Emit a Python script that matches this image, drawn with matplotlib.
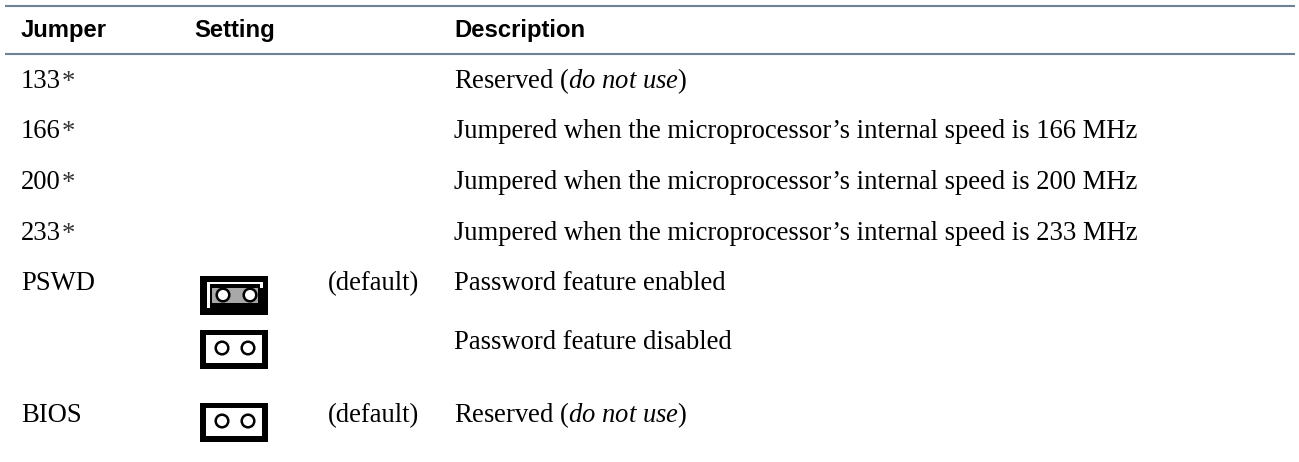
#!/usr/bin/env python3
"""Jumper settings table, drawn on a pixel-sized axes."""

import matplotlib
matplotlib.use("Agg")
import matplotlib.pyplot as plt
from matplotlib.patches import Circle, Rectangle

W, H = 1299, 462
RULE = "#6f8295"
SANS = "Liberation Sans"
SERIF = "Liberation Serif"
HEAD = 17.2
BODY = 19.2

headers = ["Jumper", "Setting", "Description"]
header_x = [21, 194, 454]

jumpers = ["133", "166", "200", "233", "PSWD", "", "BIOS"]
stars = [True, True, True, True, False, False, False]
defaults = ["", "", "", "", "(default)", "", "(default)"]
descriptions = [
    r"Reserved ($\mathit{do\ not\ use}$)",
    "Jumpered when the microprocessor\u2019s internal speed is 166 MHz",
    "Jumpered when the microprocessor\u2019s internal speed is 200 MHz",
    "Jumpered when the microprocessor\u2019s internal speed is 233 MHz",
    "Password feature enabled",
    "Password feature disabled",
    r"Reserved ($\mathit{do\ not\ use}$)",
]
row_y = [88, 138, 189, 240, 290, 349, 422]

# jumper blocks: (left, top, shunted)
blocks = [(200, 276, True), (200, 330, False), (200, 403, False)]


def draw_block(ax, x, y, shunted):
    ax.add_patch(Rectangle((x, y), 68, 39, fc="black", ec="none"))
    if shunted:
        ax.add_patch(Rectangle((x + 7, y + 6), 56, 26, fc="white", ec="none"))
        ax.add_patch(Rectangle((x + 10, y + 8), 50, 24, fc="black", ec="none"))
        ax.add_patch(Rectangle((x + 60, y + 12), 3, 20, fc="black", ec="none"))
        ax.add_patch(Rectangle((x + 12, y + 12), 46, 15, fc="#a8a8a8", ec="none"))
        centers, cy = (x + 23, x + 50), y + 19
    else:
        ax.add_patch(Rectangle((x + 6, y + 5), 56, 28, fc="white", ec="none"))
        centers, cy = (x + 22, x + 48), y + 18
    for cx in centers:
        ax.add_patch(Circle((cx, cy), 6.3, fc="white", ec="black", lw=1.8))


def main():
    plt.rcParams["mathtext.fontset"] = "custom"
    plt.rcParams["mathtext.it"] = "Liberation Serif:italic"
    plt.rcParams["mathtext.rm"] = SERIF

    fig = plt.figure(figsize=(W / 100, H / 100), dpi=100)
    ax = fig.add_axes([0, 0, 1, 1])
    ax.set_xlim(0, W)
    ax.set_ylim(H, 0)
    ax.axis("off")

    ax.plot([5, 1295], [6, 6], color=RULE, lw=1.5, solid_capstyle="butt")
    ax.plot([5, 1295], [54, 54], color=RULE, lw=1.5, solid_capstyle="butt")

    for x, label in zip(header_x, headers):
        ax.text(x, 37, label, family=SANS, weight="bold", fontsize=HEAD,
                va="baseline", ha="left", color="black")

    for i, y in enumerate(row_y):
        if jumpers[i]:
            ax.text(21, y, jumpers[i], family=SERIF, fontsize=BODY, va="baseline", ha="left")
            if stars[i]:
                ax.text(62, y + 1, "*", family=SERIF, fontsize=BODY, va="baseline",
                        ha="left", color="#333333")
        if defaults[i]:
            ax.text(328, y, defaults[i], family=SERIF, fontsize=BODY, va="baseline", ha="left")
        ax.text(454, y, descriptions[i], family=SERIF, fontsize=BODY, va="baseline", ha="left")

    for x, y, shunted in blocks:
        draw_block(ax, x, y, shunted)

    fig.savefig("out.png", dpi=100)


if __name__ == "__main__":
    main()
